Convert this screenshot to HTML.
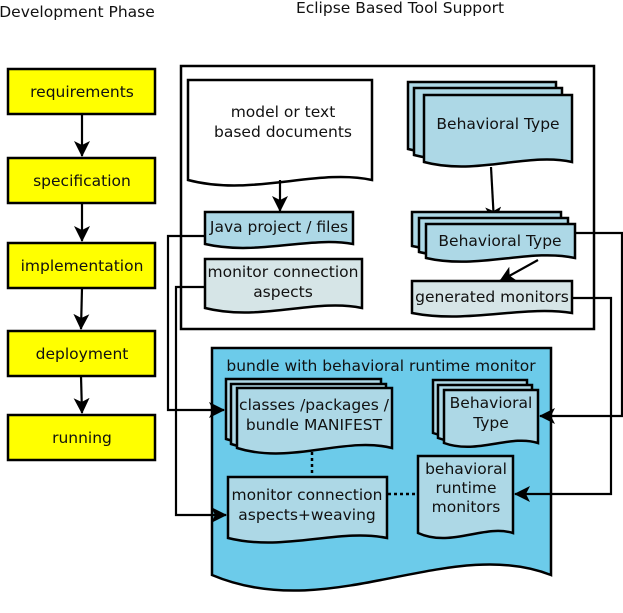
<!DOCTYPE html>
<html><head><meta charset="utf-8"><style>
html,body{margin:0;padding:0;background:#fff;}
svg{display:block;}
text{font-family:"DejaVu Sans","Liberation Sans",sans-serif;font-size:15.5px;fill:#111;text-anchor:middle;}
.y{fill:#ffff00;stroke:#000;stroke-width:2.5;}
.lb{fill:#add8e6;stroke:#000;stroke-width:2.5;}
.gr{fill:#d6e5e7;stroke:#000;stroke-width:2.5;}
.w{fill:#fff;stroke:#000;stroke-width:2.5;}
.ln{fill:none;stroke:#000;stroke-width:2.2;}
</style></head><body>
<svg width="623" height="613" viewBox="0 0 623 613" xmlns="http://www.w3.org/2000/svg">
<defs>
<marker id="b" markerWidth="18" markerHeight="18" refX="15" refY="8" orient="auto" markerUnits="userSpaceOnUse"><path d="M0,0 L16,8 L0,16 L4,8 Z" fill="#000"/></marker></defs>
<text x="77" y="17">Development Phase</text>
<text x="400" y="13">Eclipse Based Tool Support</text>

<rect class="y" x="8" y="69" width="147" height="45"/><text x="82" y="97">requirements</text>
<rect class="y" x="8" y="158" width="147" height="45"/><text x="82" y="186">specification</text>
<rect class="y" x="8" y="243" width="147" height="45"/><text x="82" y="271">implementation</text>
<rect class="y" x="8" y="331" width="147" height="45"/><text x="82" y="359">deployment</text>
<rect class="y" x="8" y="415" width="147" height="45"/><text x="82" y="443">running</text>
<line class="ln" x1="82" y1="114" x2="82" y2="156" marker-end="url(#b)"/>
<line class="ln" x1="82" y1="203" x2="82" y2="241" marker-end="url(#b)"/>
<line class="ln" x1="82" y1="288" x2="81" y2="329" marker-end="url(#b)"/>
<line class="ln" x1="81" y1="376" x2="82" y2="413" marker-end="url(#b)"/>

<rect x="181" y="66" width="413" height="263" fill="none" stroke="#000" stroke-width="2.5"/>

<path class="w" d="M188,80 H372 V180 C317,168 252,197 188,180 Z"/>
<text x="283" y="117">model or text</text><text x="283" y="137">based documents</text>
<line class="ln" x1="280" y1="180" x2="280" y2="211" marker-end="url(#b)"/>

<path class="lb" d="M205,212 H353 V244 C309,236 257,256 205,244 Z"/>
<text x="279" y="232">Java project / files</text>
<path class="gr" d="M205,259 H362 V308 C315,298 260,322 205,308 Z"/>
<text x="283" y="277">monitor connection</text><text x="283" y="297">aspects</text>

<path class="lb" d="M408,82 H556 V149 C512,139 460,163 408,149 Z"/>
<path class="lb" d="M414,88 H562 V155 C518,145 466,169 414,155 Z"/>
<path class="lb" d="M424,95 H572 V162 C528,152 476,176 424,162 Z"/>
<text x="498" y="129">Behavioral Type</text>
<line class="ln" x1="491" y1="167" x2="494" y2="222" marker-end="url(#b)"/>

<path class="lb" d="M412,212 H561 V246 C516,236 464,258 412,246 Z"/>
<path class="lb" d="M419,218 H568 V252 C523,242 471,264 419,252 Z"/>
<path class="lb" d="M426,224 H575 V258 C530,248 478,270 426,258 Z"/>
<text x="500" y="246">Behavioral Type</text>
<line class="ln" x1="538" y1="260" x2="500" y2="281" marker-end="url(#b)"/>

<path class="gr" d="M412,281 H572 V313 C524,305 468,324 412,313 Z"/>
<text x="492" y="302">generated monitors</text>

<path d="M212,348 H551 V575 C449,535 330,625 212,575 Z" fill="#6ccbea" stroke="#000" stroke-width="2.5"/>
<text x="381" y="371">bundle with behavioral runtime monitor</text>

<path class="lb" d="M226,379 H381 V439 C327,427 280,456 226,439 Z"/>
<path class="lb" d="M231,384 H386 V444 C332,432 285,461 231,444 Z"/>
<path class="lb" d="M237,388 H392 V448 C345,436 291,465 237,448 Z"/>
<text x="314" y="410">classes /packages /</text><text x="314" y="430">bundle MANIFEST</text>

<path class="lb" d="M433,380 H527 V433 C499,424 466,445 433,433 Z"/>
<path class="lb" d="M438,385 H532 V438 C504,429 471,450 438,438 Z"/>
<path class="lb" d="M444,390 H538 V443 C510,434 477,455 444,443 Z"/>
<text x="491" y="408">Behavioral</text><text x="491" y="428">Type</text>

<path class="lb" d="M228,477 H387 V538 C339,528 284,552 228,538 Z"/>
<text x="307" y="500">monitor connection</text><text x="307" y="520">aspects+weaving</text>

<path class="lb" d="M418,456 H513 V533 C484,524 451,548 418,533 Z"/>
<text x="466" y="474">behavioral</text><text x="466" y="493">runtime</text><text x="466" y="512">monitors</text>

<line x1="312" y1="452" x2="312" y2="476" stroke="#000" stroke-width="2.5" stroke-dasharray="3,3"/>
<line x1="388" y1="494" x2="418" y2="494" stroke="#000" stroke-width="2.5" stroke-dasharray="3,3"/>

<polyline class="ln" points="205,236 168,236 168,410 224,410" marker-end="url(#b)"/>
<polyline class="ln" points="205,287 176,287 176,515 226,515" marker-end="url(#b)"/>
<polyline class="ln" points="575,233 622,233 622,416 540,416" marker-end="url(#b)"/>
<polyline class="ln" points="572,298 611,298 611,494 515,494" marker-end="url(#b)"/>
</svg>
</body></html>
